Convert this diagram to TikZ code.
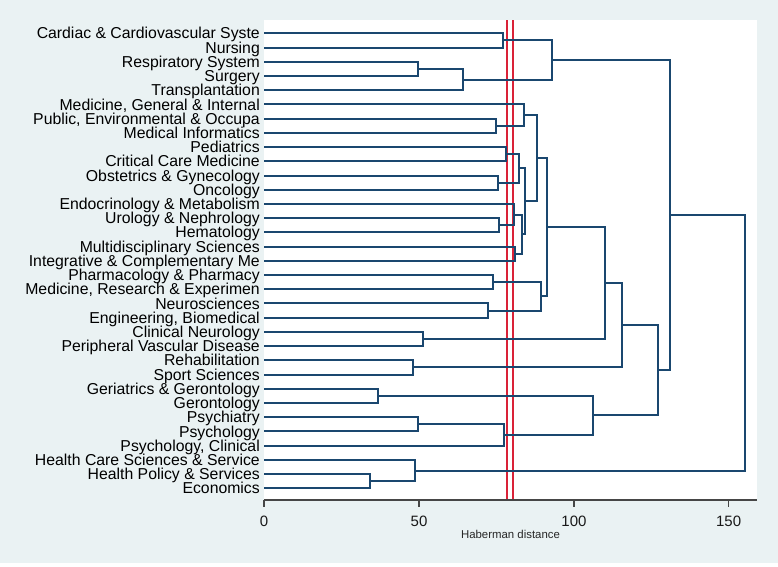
\documentclass[tikz,border=0pt]{standalone}
\usepackage{fontspec}
\setmainfont{Liberation Sans}
\usetikzlibrary{calc}
\definecolor{bgc}{RGB}{234,242,243}
\definecolor{navy}{RGB}{26,71,111}
\definecolor{redl}{RGB}{218,34,56}
\definecolor{axgray}{RGB}{70,70,70}
\newcommand\dmerge[4]{%
  \coordinate (#4x) at (#3,0);
  \draw[dend] (#1) -- (#1 -| #4x) -- (#2 -| #4x) -- (#2);
  \coordinate (#4) at ($(#1 -| #4x)!0.5!(#2 -| #4x)$);
}
\begin{document}
\begin{tikzpicture}[x=1pt,y=-1pt,
  dend/.style={draw=navy,line width=2pt,line join=miter},
  cutline/.style={draw=redl,line width=2pt},
  axisline/.style={draw=axgray,line width=1.5pt},
  leaflabel/.style={anchor=base east,inner sep=0pt,font=\fontsize{15.8}{16}\selectfont,text=black},
  ticklabel/.style={anchor=base,inner sep=0pt,font=\fontsize{15}{16}\selectfont,text=black!90},
  axtitle/.style={anchor=base,inner sep=0pt,font=\fontsize{11.4}{12}\selectfont,text=black!85}]
\useasboundingbox (0,0) rectangle (778,566);
\fill[white] (0,0) rectangle (778,566);
\fill[bgc] (0,0) rectangle (778,563);
\fill[white] (264,20) rectangle (757,500);
% cut lines
\coordinate (r1t) at (506.7,20); \coordinate (r1b) at (506.7,500);
\coordinate (r2t) at (513,20); \coordinate (r2b) at (513,500);
\draw[cutline] (r1t) -- (r1b);
\draw[cutline] (r2t) -- (r2b);
% leaves
\foreach \lab [count=\i from 0] in {Cardiac \& Cardiovascular Syste, Nursing, Respiratory System, Surgery, Transplantation, {Medicine, General \& Internal}, {Public, Environmental \& Occupa}, Medical Informatics, Pediatrics, Critical Care Medicine, Obstetrics \& Gynecology, Oncology, Endocrinology \& Metabolism, Urology \& Nephrology, Hematology, Multidisciplinary Sciences, Integrative \& Complementary Me, Pharmacology \& Pharmacy, {Medicine, Research \& Experimen}, Neurosciences, {Engineering, Biomedical}, Clinical Neurology, Peripheral Vascular Disease, Rehabilitation, Sport Sciences, Geriatrics \& Gerontology, Gerontology, Psychiatry, Psychology, {Psychology, Clinical}, Health Care Sciences \& Service, Health Policy \& Services, Economics} {
  \coordinate (L\i) at (264,33.3+14.22*\i);
  \node[leaflabel] (T\i) at (260,33.3+14.22*\i+5.6) {\lab};
}
% merges
\dmerge{L0}{L1}{503.3}{m01}
\dmerge{L2}{L3}{418.3}{m23}
\dmerge{m23}{L4}{462.7}{m234}
\dmerge{m01}{m234}{552.3}{mA}
\dmerge{L6}{L7}{495.7}{m67}
\dmerge{L5}{m67}{524}{m567}
\dmerge{L8}{L9}{506}{m89}
\dmerge{L10}{L11}{498.3}{mXY}
\dmerge{m89}{mXY}{519}{mEI}
\dmerge{L13}{L14}{499.3}{mTF}
\dmerge{L12}{mTF}{514.3}{mTW}
\dmerge{L15}{L16}{515}{mFS}
\dmerge{mTW}{mFS}{521.5}{mTS}
\dmerge{mEI}{mTS}{525}{mES}
\dmerge{m567}{mES}{536.7}{mFV}
\dmerge{L17}{L18}{493.3}{mSE}
\dmerge{L19}{L20}{487.7}{mNT}
\dmerge{mSE}{mNT}{541}{mSN}
\dmerge{mFV}{mSN}{547.3}{mFT}
\dmerge{L21}{L22}{423.3}{mCP}
\dmerge{mFT}{mCP}{605.3}{mFC}
\dmerge{L23}{L24}{413.3}{mRS}
\dmerge{mFC}{mRS}{622.3}{mFR}
\dmerge{L25}{L26}{377.7}{mGG}
\dmerge{L27}{L28}{418.3}{mPP}
\dmerge{mPP}{L29}{504}{mPC}
\dmerge{mGG}{mPC}{592.7}{mGP}
\dmerge{mFR}{mGP}{657.7}{mFG}
\dmerge{mA}{mFG}{670}{mTop}
\dmerge{L31}{L32}{370}{mHE}
\dmerge{L30}{mHE}{415}{mHC}
\dmerge{mTop}{mHC}{745}{mRoot}
% axis
\coordinate (ax0) at (264,500); \coordinate (ax1) at (757,500);
\draw[axisline] (ax0) -- (ax1);
\foreach \v/\xx in {0/264,50/419,100/574,150/728.6} {
  \coordinate (tk\v) at (\xx,500);
  \coordinate (tb\v) at (\xx,507);
  \draw[axisline] (tk\v) -- (tb\v);
  \node[ticklabel] (tl\v) at (\xx,526.7) {\v};
}
\node[axtitle] (xt) at (510.5,538.3) {Haberman distance};
\end{tikzpicture}
\end{document}
